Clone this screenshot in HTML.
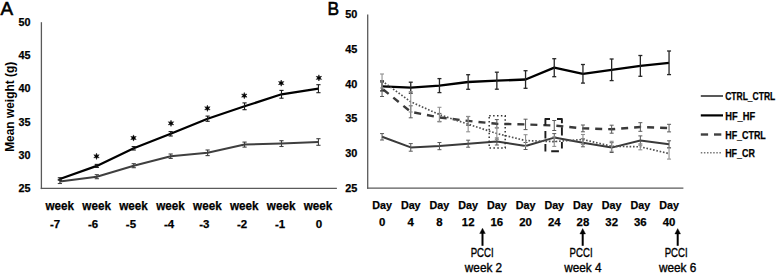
<!DOCTYPE html>
<html><head><meta charset="utf-8"><style>
html,body{margin:0;padding:0;background:#fff;}
svg{display:block;font-family:"Liberation Sans", sans-serif;}
</style></head><body>
<svg width="777" height="274" viewBox="0 0 777 274">
<rect width="777" height="274" fill="#fff"/>
<text x="0.60" y="14.60" font-size="19.2" text-anchor="start" font-weight="normal" fill="#000" textLength="12.6" lengthAdjust="spacingAndGlyphs" stroke="#000" stroke-width="0.6">A</text>
<text x="30.50" y="25.80" font-size="10.8" text-anchor="end" font-weight="bold" fill="#000" stroke="#000" stroke-width="0.25">50</text>
<text x="30.50" y="59.05" font-size="10.8" text-anchor="end" font-weight="bold" fill="#000" stroke="#000" stroke-width="0.25">45</text>
<text x="30.50" y="92.30" font-size="10.8" text-anchor="end" font-weight="bold" fill="#000" stroke="#000" stroke-width="0.25">40</text>
<text x="30.50" y="125.55" font-size="10.8" text-anchor="end" font-weight="bold" fill="#000" stroke="#000" stroke-width="0.25">35</text>
<text x="30.50" y="158.80" font-size="10.8" text-anchor="end" font-weight="bold" fill="#000" stroke="#000" stroke-width="0.25">30</text>
<text x="30.50" y="192.05" font-size="10.8" text-anchor="end" font-weight="bold" fill="#000" stroke="#000" stroke-width="0.25">25</text>
<line x1="41.40" y1="22.20" x2="41.40" y2="189.10" stroke="#5a5a5a" stroke-width="1.3"/>
<line x1="40.75" y1="188.45" x2="336.90" y2="188.45" stroke="#5a5a5a" stroke-width="1.3"/>
<text x="59.75" y="209.80" font-size="12.5" text-anchor="middle" font-weight="bold" fill="#000" textLength="28.6" lengthAdjust="spacingAndGlyphs" stroke="#000" stroke-width="0.25">week</text>
<text x="55.15" y="227.50" font-size="11.6" text-anchor="middle" font-weight="bold" fill="#000" textLength="10.2" lengthAdjust="spacingAndGlyphs" stroke="#000" stroke-width="0.25">-7</text>
<text x="96.65" y="209.80" font-size="12.5" text-anchor="middle" font-weight="bold" fill="#000" textLength="28.6" lengthAdjust="spacingAndGlyphs" stroke="#000" stroke-width="0.25">week</text>
<text x="93.05" y="227.50" font-size="11.6" text-anchor="middle" font-weight="bold" fill="#000" textLength="10.2" lengthAdjust="spacingAndGlyphs" stroke="#000" stroke-width="0.25">-6</text>
<text x="133.55" y="209.80" font-size="12.5" text-anchor="middle" font-weight="bold" fill="#000" textLength="28.6" lengthAdjust="spacingAndGlyphs" stroke="#000" stroke-width="0.25">week</text>
<text x="130.95" y="227.50" font-size="11.6" text-anchor="middle" font-weight="bold" fill="#000" textLength="10.2" lengthAdjust="spacingAndGlyphs" stroke="#000" stroke-width="0.25">-5</text>
<text x="170.45" y="209.80" font-size="12.5" text-anchor="middle" font-weight="bold" fill="#000" textLength="28.6" lengthAdjust="spacingAndGlyphs" stroke="#000" stroke-width="0.25">week</text>
<text x="169.15" y="227.50" font-size="11.6" text-anchor="middle" font-weight="bold" fill="#000" textLength="10.2" lengthAdjust="spacingAndGlyphs" stroke="#000" stroke-width="0.25">-4</text>
<text x="207.35" y="209.80" font-size="12.5" text-anchor="middle" font-weight="bold" fill="#000" textLength="28.6" lengthAdjust="spacingAndGlyphs" stroke="#000" stroke-width="0.25">week</text>
<text x="204.25" y="227.50" font-size="11.6" text-anchor="middle" font-weight="bold" fill="#000" textLength="10.2" lengthAdjust="spacingAndGlyphs" stroke="#000" stroke-width="0.25">-3</text>
<text x="244.25" y="209.80" font-size="12.5" text-anchor="middle" font-weight="bold" fill="#000" textLength="28.6" lengthAdjust="spacingAndGlyphs" stroke="#000" stroke-width="0.25">week</text>
<text x="242.05" y="227.50" font-size="11.6" text-anchor="middle" font-weight="bold" fill="#000" textLength="10.2" lengthAdjust="spacingAndGlyphs" stroke="#000" stroke-width="0.25">-2</text>
<text x="281.15" y="209.80" font-size="12.5" text-anchor="middle" font-weight="bold" fill="#000" textLength="28.6" lengthAdjust="spacingAndGlyphs" stroke="#000" stroke-width="0.25">week</text>
<text x="280.00" y="227.50" font-size="11.6" text-anchor="middle" font-weight="bold" fill="#000" textLength="10.2" lengthAdjust="spacingAndGlyphs" stroke="#000" stroke-width="0.25">-1</text>
<text x="318.05" y="209.80" font-size="12.5" text-anchor="middle" font-weight="bold" fill="#000" textLength="28.6" lengthAdjust="spacingAndGlyphs" stroke="#000" stroke-width="0.25">week</text>
<text x="318.90" y="227.50" font-size="11.6" text-anchor="middle" font-weight="bold" fill="#000" stroke="#000" stroke-width="0.25">0</text>
<polyline points="59.87,181.50 96.81,176.70 133.74,165.70 170.68,156.20 207.62,152.80 244.56,144.60 281.49,143.60 318.43,142.00" fill="none" stroke="#3f3f3f" stroke-width="2.0" stroke-linejoin="round"/>
<polyline points="59.87,179.00 96.81,165.90 133.74,148.30 170.68,133.80 207.62,118.70 244.56,106.30 281.49,94.30 318.43,88.70" fill="none" stroke="#000" stroke-width="2.25" stroke-linejoin="round"/>
<line x1="59.87" y1="179.50" x2="59.87" y2="183.50" stroke="#3f3f3f" stroke-width="1.1"/>
<line x1="57.77" y1="179.50" x2="61.97" y2="179.50" stroke="#3f3f3f" stroke-width="1.1"/>
<line x1="57.77" y1="183.50" x2="61.97" y2="183.50" stroke="#3f3f3f" stroke-width="1.1"/>
<line x1="59.87" y1="177.80" x2="59.87" y2="180.20" stroke="#1a1a1a" stroke-width="1.1"/>
<line x1="57.77" y1="177.80" x2="61.97" y2="177.80" stroke="#1a1a1a" stroke-width="1.1"/>
<line x1="57.77" y1="180.20" x2="61.97" y2="180.20" stroke="#1a1a1a" stroke-width="1.1"/>
<line x1="96.81" y1="174.70" x2="96.81" y2="178.70" stroke="#3f3f3f" stroke-width="1.1"/>
<line x1="94.71" y1="174.70" x2="98.91" y2="174.70" stroke="#3f3f3f" stroke-width="1.1"/>
<line x1="94.71" y1="178.70" x2="98.91" y2="178.70" stroke="#3f3f3f" stroke-width="1.1"/>
<line x1="96.81" y1="164.40" x2="96.81" y2="167.40" stroke="#1a1a1a" stroke-width="1.1"/>
<line x1="94.71" y1="164.40" x2="98.91" y2="164.40" stroke="#1a1a1a" stroke-width="1.1"/>
<line x1="94.71" y1="167.40" x2="98.91" y2="167.40" stroke="#1a1a1a" stroke-width="1.1"/>
<line x1="133.74" y1="163.70" x2="133.74" y2="167.70" stroke="#3f3f3f" stroke-width="1.1"/>
<line x1="131.64" y1="163.70" x2="135.84" y2="163.70" stroke="#3f3f3f" stroke-width="1.1"/>
<line x1="131.64" y1="167.70" x2="135.84" y2="167.70" stroke="#3f3f3f" stroke-width="1.1"/>
<line x1="133.74" y1="146.60" x2="133.74" y2="150.00" stroke="#1a1a1a" stroke-width="1.1"/>
<line x1="131.64" y1="146.60" x2="135.84" y2="146.60" stroke="#1a1a1a" stroke-width="1.1"/>
<line x1="131.64" y1="150.00" x2="135.84" y2="150.00" stroke="#1a1a1a" stroke-width="1.1"/>
<line x1="170.68" y1="154.00" x2="170.68" y2="158.40" stroke="#3f3f3f" stroke-width="1.1"/>
<line x1="168.58" y1="154.00" x2="172.78" y2="154.00" stroke="#3f3f3f" stroke-width="1.1"/>
<line x1="168.58" y1="158.40" x2="172.78" y2="158.40" stroke="#3f3f3f" stroke-width="1.1"/>
<line x1="170.68" y1="131.60" x2="170.68" y2="136.00" stroke="#1a1a1a" stroke-width="1.1"/>
<line x1="168.58" y1="131.60" x2="172.78" y2="131.60" stroke="#1a1a1a" stroke-width="1.1"/>
<line x1="168.58" y1="136.00" x2="172.78" y2="136.00" stroke="#1a1a1a" stroke-width="1.1"/>
<line x1="207.62" y1="150.00" x2="207.62" y2="155.60" stroke="#3f3f3f" stroke-width="1.1"/>
<line x1="205.52" y1="150.00" x2="209.72" y2="150.00" stroke="#3f3f3f" stroke-width="1.1"/>
<line x1="205.52" y1="155.60" x2="209.72" y2="155.60" stroke="#3f3f3f" stroke-width="1.1"/>
<line x1="207.62" y1="116.10" x2="207.62" y2="121.30" stroke="#1a1a1a" stroke-width="1.1"/>
<line x1="205.52" y1="116.10" x2="209.72" y2="116.10" stroke="#1a1a1a" stroke-width="1.1"/>
<line x1="205.52" y1="121.30" x2="209.72" y2="121.30" stroke="#1a1a1a" stroke-width="1.1"/>
<line x1="244.56" y1="142.10" x2="244.56" y2="147.10" stroke="#3f3f3f" stroke-width="1.1"/>
<line x1="242.46" y1="142.10" x2="246.66" y2="142.10" stroke="#3f3f3f" stroke-width="1.1"/>
<line x1="242.46" y1="147.10" x2="246.66" y2="147.10" stroke="#3f3f3f" stroke-width="1.1"/>
<line x1="244.56" y1="102.90" x2="244.56" y2="109.70" stroke="#1a1a1a" stroke-width="1.1"/>
<line x1="242.46" y1="102.90" x2="246.66" y2="102.90" stroke="#1a1a1a" stroke-width="1.1"/>
<line x1="242.46" y1="109.70" x2="246.66" y2="109.70" stroke="#1a1a1a" stroke-width="1.1"/>
<line x1="281.49" y1="140.70" x2="281.49" y2="146.50" stroke="#3f3f3f" stroke-width="1.1"/>
<line x1="279.39" y1="140.70" x2="283.59" y2="140.70" stroke="#3f3f3f" stroke-width="1.1"/>
<line x1="279.39" y1="146.50" x2="283.59" y2="146.50" stroke="#3f3f3f" stroke-width="1.1"/>
<line x1="281.49" y1="90.40" x2="281.49" y2="98.20" stroke="#1a1a1a" stroke-width="1.1"/>
<line x1="279.39" y1="90.40" x2="283.59" y2="90.40" stroke="#1a1a1a" stroke-width="1.1"/>
<line x1="279.39" y1="98.20" x2="283.59" y2="98.20" stroke="#1a1a1a" stroke-width="1.1"/>
<line x1="318.43" y1="138.70" x2="318.43" y2="145.30" stroke="#3f3f3f" stroke-width="1.1"/>
<line x1="316.33" y1="138.70" x2="320.53" y2="138.70" stroke="#3f3f3f" stroke-width="1.1"/>
<line x1="316.33" y1="145.30" x2="320.53" y2="145.30" stroke="#3f3f3f" stroke-width="1.1"/>
<line x1="318.43" y1="84.70" x2="318.43" y2="92.70" stroke="#1a1a1a" stroke-width="1.1"/>
<line x1="316.33" y1="84.70" x2="320.53" y2="84.70" stroke="#1a1a1a" stroke-width="1.1"/>
<line x1="316.33" y1="92.70" x2="320.53" y2="92.70" stroke="#1a1a1a" stroke-width="1.1"/>
<polygon points="96.50,153.20 95.83,155.13 93.82,154.75 95.15,156.30 93.82,157.85 95.83,157.47 96.50,159.40 97.17,157.47 99.18,157.85 97.85,156.30 99.18,154.75 97.17,155.13" fill="#000" stroke="#000" stroke-width="0.5" stroke-linejoin="round"/>
<polygon points="133.50,134.90 132.82,136.83 130.82,136.45 132.15,138.00 130.82,139.55 132.82,139.17 133.50,141.10 134.18,139.17 136.18,139.55 134.85,138.00 136.18,136.45 134.18,136.83" fill="#000" stroke="#000" stroke-width="0.5" stroke-linejoin="round"/>
<polygon points="171.00,120.20 170.32,122.13 168.32,121.75 169.65,123.30 168.32,124.85 170.32,124.47 171.00,126.40 171.68,124.47 173.68,124.85 172.35,123.30 173.68,121.75 171.68,122.13" fill="#000" stroke="#000" stroke-width="0.5" stroke-linejoin="round"/>
<polygon points="207.40,105.20 206.72,107.13 204.72,106.75 206.05,108.30 204.72,109.85 206.72,109.47 207.40,111.40 208.08,109.47 210.08,109.85 208.75,108.30 210.08,106.75 208.08,107.13" fill="#000" stroke="#000" stroke-width="0.5" stroke-linejoin="round"/>
<polygon points="244.30,92.50 243.62,94.43 241.62,94.05 242.95,95.60 241.62,97.15 243.62,96.77 244.30,98.70 244.98,96.77 246.98,97.15 245.65,95.60 246.98,94.05 244.98,94.43" fill="#000" stroke="#000" stroke-width="0.5" stroke-linejoin="round"/>
<polygon points="281.20,80.00 280.52,81.93 278.52,81.55 279.85,83.10 278.52,84.65 280.52,84.27 281.20,86.20 281.88,84.27 283.88,84.65 282.55,83.10 283.88,81.55 281.88,81.93" fill="#000" stroke="#000" stroke-width="0.5" stroke-linejoin="round"/>
<polygon points="318.90,74.80 318.22,76.73 316.22,76.35 317.55,77.90 316.22,79.45 318.22,79.07 318.90,81.00 319.57,79.07 321.58,79.45 320.25,77.90 321.58,76.35 319.57,76.73" fill="#000" stroke="#000" stroke-width="0.5" stroke-linejoin="round"/>
<text x="327.40" y="14.60" font-size="19.2" text-anchor="start" font-weight="normal" fill="#000" textLength="11.6" lengthAdjust="spacingAndGlyphs" stroke="#000" stroke-width="0.6">B</text>
<text x="357.40" y="18.10" font-size="10.9" text-anchor="end" font-weight="bold" fill="#000" stroke="#000" stroke-width="0.25">50</text>
<text x="357.40" y="52.82" font-size="10.9" text-anchor="end" font-weight="bold" fill="#000" stroke="#000" stroke-width="0.25">45</text>
<text x="357.40" y="87.54" font-size="10.9" text-anchor="end" font-weight="bold" fill="#000" stroke="#000" stroke-width="0.25">40</text>
<text x="357.40" y="122.26" font-size="10.9" text-anchor="end" font-weight="bold" fill="#000" stroke="#000" stroke-width="0.25">35</text>
<text x="357.40" y="156.98" font-size="10.9" text-anchor="end" font-weight="bold" fill="#000" stroke="#000" stroke-width="0.25">30</text>
<text x="357.40" y="191.70" font-size="10.9" text-anchor="end" font-weight="bold" fill="#000" stroke="#000" stroke-width="0.25">25</text>
<line x1="367.70" y1="14.60" x2="367.70" y2="188.85" stroke="#5a5a5a" stroke-width="1.3"/>
<line x1="367.05" y1="188.20" x2="683.40" y2="188.20" stroke="#5a5a5a" stroke-width="1.3"/>
<text x="382.05" y="209.20" font-size="11.6" text-anchor="middle" font-weight="bold" fill="#000" textLength="19.7" lengthAdjust="spacingAndGlyphs" stroke="#000" stroke-width="0.25">Day</text>
<text x="382.05" y="225.50" font-size="11.4" text-anchor="middle" font-weight="bold" fill="#000" stroke="#000" stroke-width="0.25">0</text>
<text x="410.75" y="209.20" font-size="11.6" text-anchor="middle" font-weight="bold" fill="#000" textLength="19.7" lengthAdjust="spacingAndGlyphs" stroke="#000" stroke-width="0.25">Day</text>
<text x="410.75" y="225.50" font-size="11.4" text-anchor="middle" font-weight="bold" fill="#000" stroke="#000" stroke-width="0.25">4</text>
<text x="439.45" y="209.20" font-size="11.6" text-anchor="middle" font-weight="bold" fill="#000" textLength="19.7" lengthAdjust="spacingAndGlyphs" stroke="#000" stroke-width="0.25">Day</text>
<text x="439.45" y="225.50" font-size="11.4" text-anchor="middle" font-weight="bold" fill="#000" stroke="#000" stroke-width="0.25">8</text>
<text x="468.15" y="209.20" font-size="11.6" text-anchor="middle" font-weight="bold" fill="#000" textLength="19.7" lengthAdjust="spacingAndGlyphs" stroke="#000" stroke-width="0.25">Day</text>
<text x="468.15" y="225.50" font-size="11.4" text-anchor="middle" font-weight="bold" fill="#000" stroke="#000" stroke-width="0.25">12</text>
<text x="496.85" y="209.20" font-size="11.6" text-anchor="middle" font-weight="bold" fill="#000" textLength="19.7" lengthAdjust="spacingAndGlyphs" stroke="#000" stroke-width="0.25">Day</text>
<text x="496.85" y="225.50" font-size="11.4" text-anchor="middle" font-weight="bold" fill="#000" stroke="#000" stroke-width="0.25">16</text>
<text x="525.55" y="209.20" font-size="11.6" text-anchor="middle" font-weight="bold" fill="#000" textLength="19.7" lengthAdjust="spacingAndGlyphs" stroke="#000" stroke-width="0.25">Day</text>
<text x="525.55" y="225.50" font-size="11.4" text-anchor="middle" font-weight="bold" fill="#000" stroke="#000" stroke-width="0.25">20</text>
<text x="554.25" y="209.20" font-size="11.6" text-anchor="middle" font-weight="bold" fill="#000" textLength="19.7" lengthAdjust="spacingAndGlyphs" stroke="#000" stroke-width="0.25">Day</text>
<text x="554.25" y="225.50" font-size="11.4" text-anchor="middle" font-weight="bold" fill="#000" stroke="#000" stroke-width="0.25">24</text>
<text x="582.95" y="209.20" font-size="11.6" text-anchor="middle" font-weight="bold" fill="#000" textLength="19.7" lengthAdjust="spacingAndGlyphs" stroke="#000" stroke-width="0.25">Day</text>
<text x="582.95" y="225.50" font-size="11.4" text-anchor="middle" font-weight="bold" fill="#000" stroke="#000" stroke-width="0.25">28</text>
<text x="611.65" y="209.20" font-size="11.6" text-anchor="middle" font-weight="bold" fill="#000" textLength="19.7" lengthAdjust="spacingAndGlyphs" stroke="#000" stroke-width="0.25">Day</text>
<text x="611.65" y="225.50" font-size="11.4" text-anchor="middle" font-weight="bold" fill="#000" stroke="#000" stroke-width="0.25">32</text>
<text x="640.35" y="209.20" font-size="11.6" text-anchor="middle" font-weight="bold" fill="#000" textLength="19.7" lengthAdjust="spacingAndGlyphs" stroke="#000" stroke-width="0.25">Day</text>
<text x="640.35" y="225.50" font-size="11.4" text-anchor="middle" font-weight="bold" fill="#000" stroke="#000" stroke-width="0.25">36</text>
<text x="669.05" y="209.20" font-size="11.6" text-anchor="middle" font-weight="bold" fill="#000" textLength="19.7" lengthAdjust="spacingAndGlyphs" stroke="#000" stroke-width="0.25">Day</text>
<text x="669.05" y="225.50" font-size="11.4" text-anchor="middle" font-weight="bold" fill="#000" stroke="#000" stroke-width="0.25">40</text>
<polyline points="382.05,136.80 410.75,147.40 439.45,146.10 468.15,143.70 496.85,141.50 525.55,146.00 554.25,137.60 582.95,142.80 611.65,147.60 640.35,140.50 669.05,144.20" fill="none" stroke="#3a3a3a" stroke-width="2.0" stroke-linejoin="round"/>
<polyline points="382.05,86.40 410.75,87.70 439.45,85.60 468.15,82.00 496.85,80.70 525.55,79.50 554.25,67.70 582.95,73.80 611.65,69.80 640.35,65.90 669.05,62.80" fill="none" stroke="#000" stroke-width="2.35" stroke-linejoin="round"/>
<polyline points="382.05,88.50 410.75,111.80 439.45,117.40 468.15,120.90 496.85,123.80 525.55,124.40 554.25,125.50 582.95,128.40 611.65,129.20 640.35,127.00 669.05,128.10" fill="none" stroke="#3a3a3a" stroke-width="2.4" stroke-linejoin="round" stroke-dasharray="7 6" stroke-dashoffset="-1.5"/>
<polyline points="382.05,81.00 410.75,101.80 439.45,114.60 468.15,124.20 496.85,133.50 525.55,140.60 554.25,141.60 582.95,139.50 611.65,146.30 640.35,146.80 669.05,153.60" fill="none" stroke="#505050" stroke-width="1.7" stroke-linejoin="round" stroke-dasharray="1.6 1.8"/>
<line x1="382.05" y1="133.60" x2="382.05" y2="140.00" stroke="#595959" stroke-width="1.0"/>
<line x1="380.05" y1="133.60" x2="384.05" y2="133.60" stroke="#595959" stroke-width="1.0"/>
<line x1="380.05" y1="140.00" x2="384.05" y2="140.00" stroke="#595959" stroke-width="1.0"/>
<line x1="382.05" y1="81.90" x2="382.05" y2="90.90" stroke="#262626" stroke-width="1.3"/>
<line x1="380.05" y1="81.90" x2="384.05" y2="81.90" stroke="#262626" stroke-width="1.3"/>
<line x1="380.05" y1="90.90" x2="384.05" y2="90.90" stroke="#262626" stroke-width="1.3"/>
<line x1="382.05" y1="80.50" x2="382.05" y2="96.50" stroke="#595959" stroke-width="1.0"/>
<line x1="380.05" y1="80.50" x2="384.05" y2="80.50" stroke="#595959" stroke-width="1.0"/>
<line x1="380.05" y1="96.50" x2="384.05" y2="96.50" stroke="#595959" stroke-width="1.0"/>
<line x1="382.05" y1="74.00" x2="382.05" y2="88.00" stroke="#909090" stroke-width="1.1"/>
<line x1="380.05" y1="74.00" x2="384.05" y2="74.00" stroke="#909090" stroke-width="1.1"/>
<line x1="380.05" y1="88.00" x2="384.05" y2="88.00" stroke="#909090" stroke-width="1.1"/>
<line x1="410.75" y1="143.60" x2="410.75" y2="151.20" stroke="#595959" stroke-width="1.0"/>
<line x1="408.75" y1="143.60" x2="412.75" y2="143.60" stroke="#595959" stroke-width="1.0"/>
<line x1="408.75" y1="151.20" x2="412.75" y2="151.20" stroke="#595959" stroke-width="1.0"/>
<line x1="410.75" y1="82.20" x2="410.75" y2="93.20" stroke="#262626" stroke-width="1.3"/>
<line x1="408.75" y1="82.20" x2="412.75" y2="82.20" stroke="#262626" stroke-width="1.3"/>
<line x1="408.75" y1="93.20" x2="412.75" y2="93.20" stroke="#262626" stroke-width="1.3"/>
<line x1="410.75" y1="105.80" x2="410.75" y2="117.80" stroke="#595959" stroke-width="1.0"/>
<line x1="408.75" y1="105.80" x2="412.75" y2="105.80" stroke="#595959" stroke-width="1.0"/>
<line x1="408.75" y1="117.80" x2="412.75" y2="117.80" stroke="#595959" stroke-width="1.0"/>
<line x1="410.75" y1="91.60" x2="410.75" y2="112.00" stroke="#909090" stroke-width="1.1"/>
<line x1="408.75" y1="91.60" x2="412.75" y2="91.60" stroke="#909090" stroke-width="1.1"/>
<line x1="408.75" y1="112.00" x2="412.75" y2="112.00" stroke="#909090" stroke-width="1.1"/>
<line x1="439.45" y1="142.50" x2="439.45" y2="149.70" stroke="#595959" stroke-width="1.0"/>
<line x1="437.45" y1="142.50" x2="441.45" y2="142.50" stroke="#595959" stroke-width="1.0"/>
<line x1="437.45" y1="149.70" x2="441.45" y2="149.70" stroke="#595959" stroke-width="1.0"/>
<line x1="439.45" y1="78.60" x2="439.45" y2="92.60" stroke="#262626" stroke-width="1.3"/>
<line x1="437.45" y1="78.60" x2="441.45" y2="78.60" stroke="#262626" stroke-width="1.3"/>
<line x1="437.45" y1="92.60" x2="441.45" y2="92.60" stroke="#262626" stroke-width="1.3"/>
<line x1="439.45" y1="113.40" x2="439.45" y2="121.40" stroke="#595959" stroke-width="1.0"/>
<line x1="437.45" y1="113.40" x2="441.45" y2="113.40" stroke="#595959" stroke-width="1.0"/>
<line x1="437.45" y1="121.40" x2="441.45" y2="121.40" stroke="#595959" stroke-width="1.0"/>
<line x1="439.45" y1="107.30" x2="439.45" y2="121.90" stroke="#909090" stroke-width="1.1"/>
<line x1="437.45" y1="107.30" x2="441.45" y2="107.30" stroke="#909090" stroke-width="1.1"/>
<line x1="437.45" y1="121.90" x2="441.45" y2="121.90" stroke="#909090" stroke-width="1.1"/>
<line x1="468.15" y1="140.20" x2="468.15" y2="147.20" stroke="#595959" stroke-width="1.0"/>
<line x1="466.15" y1="140.20" x2="470.15" y2="140.20" stroke="#595959" stroke-width="1.0"/>
<line x1="466.15" y1="147.20" x2="470.15" y2="147.20" stroke="#595959" stroke-width="1.0"/>
<line x1="468.15" y1="74.70" x2="468.15" y2="89.30" stroke="#262626" stroke-width="1.3"/>
<line x1="466.15" y1="74.70" x2="470.15" y2="74.70" stroke="#262626" stroke-width="1.3"/>
<line x1="466.15" y1="89.30" x2="470.15" y2="89.30" stroke="#262626" stroke-width="1.3"/>
<line x1="468.15" y1="116.40" x2="468.15" y2="125.40" stroke="#595959" stroke-width="1.0"/>
<line x1="466.15" y1="116.40" x2="470.15" y2="116.40" stroke="#595959" stroke-width="1.0"/>
<line x1="466.15" y1="125.40" x2="470.15" y2="125.40" stroke="#595959" stroke-width="1.0"/>
<line x1="468.15" y1="116.60" x2="468.15" y2="131.80" stroke="#909090" stroke-width="1.1"/>
<line x1="466.15" y1="116.60" x2="470.15" y2="116.60" stroke="#909090" stroke-width="1.1"/>
<line x1="466.15" y1="131.80" x2="470.15" y2="131.80" stroke="#909090" stroke-width="1.1"/>
<line x1="496.85" y1="138.00" x2="496.85" y2="145.00" stroke="#595959" stroke-width="1.0"/>
<line x1="494.85" y1="138.00" x2="498.85" y2="138.00" stroke="#595959" stroke-width="1.0"/>
<line x1="494.85" y1="145.00" x2="498.85" y2="145.00" stroke="#595959" stroke-width="1.0"/>
<line x1="496.85" y1="72.20" x2="496.85" y2="89.20" stroke="#262626" stroke-width="1.3"/>
<line x1="494.85" y1="72.20" x2="498.85" y2="72.20" stroke="#262626" stroke-width="1.3"/>
<line x1="494.85" y1="89.20" x2="498.85" y2="89.20" stroke="#262626" stroke-width="1.3"/>
<line x1="496.85" y1="119.60" x2="496.85" y2="128.00" stroke="#595959" stroke-width="1.0"/>
<line x1="494.85" y1="119.60" x2="498.85" y2="119.60" stroke="#595959" stroke-width="1.0"/>
<line x1="494.85" y1="128.00" x2="498.85" y2="128.00" stroke="#595959" stroke-width="1.0"/>
<line x1="496.85" y1="127.50" x2="496.85" y2="139.50" stroke="#909090" stroke-width="1.1"/>
<line x1="494.85" y1="127.50" x2="498.85" y2="127.50" stroke="#909090" stroke-width="1.1"/>
<line x1="494.85" y1="139.50" x2="498.85" y2="139.50" stroke="#909090" stroke-width="1.1"/>
<line x1="525.55" y1="142.50" x2="525.55" y2="149.50" stroke="#595959" stroke-width="1.0"/>
<line x1="523.55" y1="142.50" x2="527.55" y2="142.50" stroke="#595959" stroke-width="1.0"/>
<line x1="523.55" y1="149.50" x2="527.55" y2="149.50" stroke="#595959" stroke-width="1.0"/>
<line x1="525.55" y1="70.70" x2="525.55" y2="88.30" stroke="#262626" stroke-width="1.3"/>
<line x1="523.55" y1="70.70" x2="527.55" y2="70.70" stroke="#262626" stroke-width="1.3"/>
<line x1="523.55" y1="88.30" x2="527.55" y2="88.30" stroke="#262626" stroke-width="1.3"/>
<line x1="525.55" y1="119.20" x2="525.55" y2="129.60" stroke="#595959" stroke-width="1.0"/>
<line x1="523.55" y1="119.20" x2="527.55" y2="119.20" stroke="#595959" stroke-width="1.0"/>
<line x1="523.55" y1="129.60" x2="527.55" y2="129.60" stroke="#595959" stroke-width="1.0"/>
<line x1="525.55" y1="134.70" x2="525.55" y2="146.50" stroke="#909090" stroke-width="1.1"/>
<line x1="523.55" y1="134.70" x2="527.55" y2="134.70" stroke="#909090" stroke-width="1.1"/>
<line x1="523.55" y1="146.50" x2="527.55" y2="146.50" stroke="#909090" stroke-width="1.1"/>
<line x1="554.25" y1="133.60" x2="554.25" y2="141.60" stroke="#595959" stroke-width="1.0"/>
<line x1="552.25" y1="133.60" x2="556.25" y2="133.60" stroke="#595959" stroke-width="1.0"/>
<line x1="552.25" y1="141.60" x2="556.25" y2="141.60" stroke="#595959" stroke-width="1.0"/>
<line x1="554.25" y1="58.70" x2="554.25" y2="76.70" stroke="#262626" stroke-width="1.3"/>
<line x1="552.25" y1="58.70" x2="556.25" y2="58.70" stroke="#262626" stroke-width="1.3"/>
<line x1="552.25" y1="76.70" x2="556.25" y2="76.70" stroke="#262626" stroke-width="1.3"/>
<line x1="554.25" y1="120.50" x2="554.25" y2="130.50" stroke="#595959" stroke-width="1.0"/>
<line x1="552.25" y1="120.50" x2="556.25" y2="120.50" stroke="#595959" stroke-width="1.0"/>
<line x1="552.25" y1="130.50" x2="556.25" y2="130.50" stroke="#595959" stroke-width="1.0"/>
<line x1="554.25" y1="136.80" x2="554.25" y2="146.40" stroke="#909090" stroke-width="1.1"/>
<line x1="552.25" y1="136.80" x2="556.25" y2="136.80" stroke="#909090" stroke-width="1.1"/>
<line x1="552.25" y1="146.40" x2="556.25" y2="146.40" stroke="#909090" stroke-width="1.1"/>
<line x1="582.95" y1="138.80" x2="582.95" y2="146.80" stroke="#595959" stroke-width="1.0"/>
<line x1="580.95" y1="138.80" x2="584.95" y2="138.80" stroke="#595959" stroke-width="1.0"/>
<line x1="580.95" y1="146.80" x2="584.95" y2="146.80" stroke="#595959" stroke-width="1.0"/>
<line x1="582.95" y1="64.50" x2="582.95" y2="83.10" stroke="#262626" stroke-width="1.3"/>
<line x1="580.95" y1="64.50" x2="584.95" y2="64.50" stroke="#262626" stroke-width="1.3"/>
<line x1="580.95" y1="83.10" x2="584.95" y2="83.10" stroke="#262626" stroke-width="1.3"/>
<line x1="582.95" y1="125.00" x2="582.95" y2="131.80" stroke="#595959" stroke-width="1.0"/>
<line x1="580.95" y1="125.00" x2="584.95" y2="125.00" stroke="#595959" stroke-width="1.0"/>
<line x1="580.95" y1="131.80" x2="584.95" y2="131.80" stroke="#595959" stroke-width="1.0"/>
<line x1="582.95" y1="134.50" x2="582.95" y2="144.50" stroke="#909090" stroke-width="1.1"/>
<line x1="580.95" y1="134.50" x2="584.95" y2="134.50" stroke="#909090" stroke-width="1.1"/>
<line x1="580.95" y1="144.50" x2="584.95" y2="144.50" stroke="#909090" stroke-width="1.1"/>
<line x1="611.65" y1="142.70" x2="611.65" y2="152.50" stroke="#595959" stroke-width="1.0"/>
<line x1="609.65" y1="142.70" x2="613.65" y2="142.70" stroke="#595959" stroke-width="1.0"/>
<line x1="609.65" y1="152.50" x2="613.65" y2="152.50" stroke="#595959" stroke-width="1.0"/>
<line x1="611.65" y1="59.00" x2="611.65" y2="80.60" stroke="#262626" stroke-width="1.3"/>
<line x1="609.65" y1="59.00" x2="613.65" y2="59.00" stroke="#262626" stroke-width="1.3"/>
<line x1="609.65" y1="80.60" x2="613.65" y2="80.60" stroke="#262626" stroke-width="1.3"/>
<line x1="611.65" y1="125.20" x2="611.65" y2="133.20" stroke="#595959" stroke-width="1.0"/>
<line x1="609.65" y1="125.20" x2="613.65" y2="125.20" stroke="#595959" stroke-width="1.0"/>
<line x1="609.65" y1="133.20" x2="613.65" y2="133.20" stroke="#595959" stroke-width="1.0"/>
<line x1="611.65" y1="141.30" x2="611.65" y2="151.30" stroke="#909090" stroke-width="1.1"/>
<line x1="609.65" y1="141.30" x2="613.65" y2="141.30" stroke="#909090" stroke-width="1.1"/>
<line x1="609.65" y1="151.30" x2="613.65" y2="151.30" stroke="#909090" stroke-width="1.1"/>
<line x1="640.35" y1="135.90" x2="640.35" y2="145.10" stroke="#595959" stroke-width="1.0"/>
<line x1="638.35" y1="135.90" x2="642.35" y2="135.90" stroke="#595959" stroke-width="1.0"/>
<line x1="638.35" y1="145.10" x2="642.35" y2="145.10" stroke="#595959" stroke-width="1.0"/>
<line x1="640.35" y1="55.50" x2="640.35" y2="76.30" stroke="#262626" stroke-width="1.3"/>
<line x1="638.35" y1="55.50" x2="642.35" y2="55.50" stroke="#262626" stroke-width="1.3"/>
<line x1="638.35" y1="76.30" x2="642.35" y2="76.30" stroke="#262626" stroke-width="1.3"/>
<line x1="640.35" y1="122.70" x2="640.35" y2="131.30" stroke="#595959" stroke-width="1.0"/>
<line x1="638.35" y1="122.70" x2="642.35" y2="122.70" stroke="#595959" stroke-width="1.0"/>
<line x1="638.35" y1="131.30" x2="642.35" y2="131.30" stroke="#595959" stroke-width="1.0"/>
<line x1="640.35" y1="143.80" x2="640.35" y2="149.80" stroke="#909090" stroke-width="1.1"/>
<line x1="638.35" y1="143.80" x2="642.35" y2="143.80" stroke="#909090" stroke-width="1.1"/>
<line x1="638.35" y1="149.80" x2="642.35" y2="149.80" stroke="#909090" stroke-width="1.1"/>
<line x1="669.05" y1="140.80" x2="669.05" y2="147.60" stroke="#595959" stroke-width="1.0"/>
<line x1="667.05" y1="140.80" x2="671.05" y2="140.80" stroke="#595959" stroke-width="1.0"/>
<line x1="667.05" y1="147.60" x2="671.05" y2="147.60" stroke="#595959" stroke-width="1.0"/>
<line x1="669.05" y1="51.00" x2="669.05" y2="74.60" stroke="#262626" stroke-width="1.3"/>
<line x1="667.05" y1="51.00" x2="671.05" y2="51.00" stroke="#262626" stroke-width="1.3"/>
<line x1="667.05" y1="74.60" x2="671.05" y2="74.60" stroke="#262626" stroke-width="1.3"/>
<line x1="669.05" y1="124.30" x2="669.05" y2="131.90" stroke="#595959" stroke-width="1.0"/>
<line x1="667.05" y1="124.30" x2="671.05" y2="124.30" stroke="#595959" stroke-width="1.0"/>
<line x1="667.05" y1="131.90" x2="671.05" y2="131.90" stroke="#595959" stroke-width="1.0"/>
<line x1="669.05" y1="148.10" x2="669.05" y2="159.10" stroke="#909090" stroke-width="1.1"/>
<line x1="667.05" y1="148.10" x2="671.05" y2="148.10" stroke="#909090" stroke-width="1.1"/>
<line x1="667.05" y1="159.10" x2="671.05" y2="159.10" stroke="#909090" stroke-width="1.1"/>
<rect x="489.2" y="115.8" width="16" height="32.2" fill="none" stroke="#333" stroke-width="1.5" stroke-dasharray="1.5 2.4"/>
<path d="M544.6,119H550M557,119H562.6M545.4,119V125.6M545.4,131V138.6M545.4,144V151.6M561.9,119V123.2M561.9,127.3V135.6M561.9,142V148.5M551.2,151.2H558.9" fill="none" stroke="#1c1c1c" stroke-width="1.9"/>
<line x1="482.50" y1="232.20" x2="482.50" y2="245.80" stroke="#000" stroke-width="2.0"/>
<path d="M479.70,233.50 L482.50,228.20 L485.30,233.50 Z" fill="#000" stroke="#000" stroke-width="0.4" stroke-linejoin="round"/>
<line x1="582.70" y1="232.60" x2="582.70" y2="245.80" stroke="#000" stroke-width="2.0"/>
<path d="M579.90,233.90 L582.70,228.60 L585.50,233.90 Z" fill="#000" stroke="#000" stroke-width="0.4" stroke-linejoin="round"/>
<line x1="677.70" y1="232.60" x2="677.70" y2="245.80" stroke="#000" stroke-width="2.0"/>
<path d="M674.90,233.90 L677.70,228.60 L680.50,233.90 Z" fill="#000" stroke="#000" stroke-width="0.4" stroke-linejoin="round"/>
<text x="482.20" y="257.40" font-size="12.4" text-anchor="middle" font-weight="normal" fill="#000" textLength="23.0" lengthAdjust="spacingAndGlyphs" stroke="#000" stroke-width="0.35">PCCI</text>
<text x="483.50" y="272.20" font-size="12.4" text-anchor="middle" font-weight="normal" fill="#000" textLength="37.3" lengthAdjust="spacingAndGlyphs" stroke="#000" stroke-width="0.35">week 2</text>
<text x="581.10" y="257.40" font-size="12.4" text-anchor="middle" font-weight="normal" fill="#000" textLength="23.0" lengthAdjust="spacingAndGlyphs" stroke="#000" stroke-width="0.35">PCCI</text>
<text x="582.80" y="272.20" font-size="12.4" text-anchor="middle" font-weight="normal" fill="#000" textLength="37.3" lengthAdjust="spacingAndGlyphs" stroke="#000" stroke-width="0.35">week 4</text>
<text x="676.20" y="257.40" font-size="12.4" text-anchor="middle" font-weight="normal" fill="#000" textLength="23.0" lengthAdjust="spacingAndGlyphs" stroke="#000" stroke-width="0.35">PCCI</text>
<text x="677.60" y="272.20" font-size="12.4" text-anchor="middle" font-weight="normal" fill="#000" textLength="37.3" lengthAdjust="spacingAndGlyphs" stroke="#000" stroke-width="0.35">week 6</text>
<line x1="700.80" y1="96.00" x2="723.00" y2="96.00" stroke="#595959" stroke-width="2.0"/>
<line x1="700.80" y1="115.40" x2="723.00" y2="115.40" stroke="#000" stroke-width="2.2"/>
<line x1="700.80" y1="134.50" x2="708.10" y2="134.50" stroke="#404040" stroke-width="2.4"/>
<line x1="714.00" y1="134.50" x2="721.30" y2="134.50" stroke="#404040" stroke-width="2.4"/>
<line x1="700.80" y1="152.70" x2="721.00" y2="152.70" stroke="#777" stroke-width="1.5" stroke-dasharray="1.5 1.6"/>
<text x="725.20" y="100.10" font-size="10.2" text-anchor="start" font-weight="bold" fill="#000" textLength="50.1" lengthAdjust="spacingAndGlyphs" stroke="#000" stroke-width="0.25">CTRL_CTRL</text>
<text x="725.20" y="119.50" font-size="10.2" text-anchor="start" font-weight="bold" fill="#000" textLength="29.9" lengthAdjust="spacingAndGlyphs" stroke="#000" stroke-width="0.25">HF_HF</text>
<text x="725.20" y="138.60" font-size="10.2" text-anchor="start" font-weight="bold" fill="#000" textLength="40.6" lengthAdjust="spacingAndGlyphs" stroke="#000" stroke-width="0.25">HF_CTRL</text>
<text x="725.20" y="156.80" font-size="10.2" text-anchor="start" font-weight="bold" fill="#000" textLength="29.7" lengthAdjust="spacingAndGlyphs" stroke="#000" stroke-width="0.25">HF_CR</text>
<text transform="translate(13.5,106.8) rotate(-90)" x="0" y="0" font-size="12.2" text-anchor="middle" font-weight="bold" textLength="90" lengthAdjust="spacingAndGlyphs">Mean weight (g)</text>
</svg>
</body></html>
